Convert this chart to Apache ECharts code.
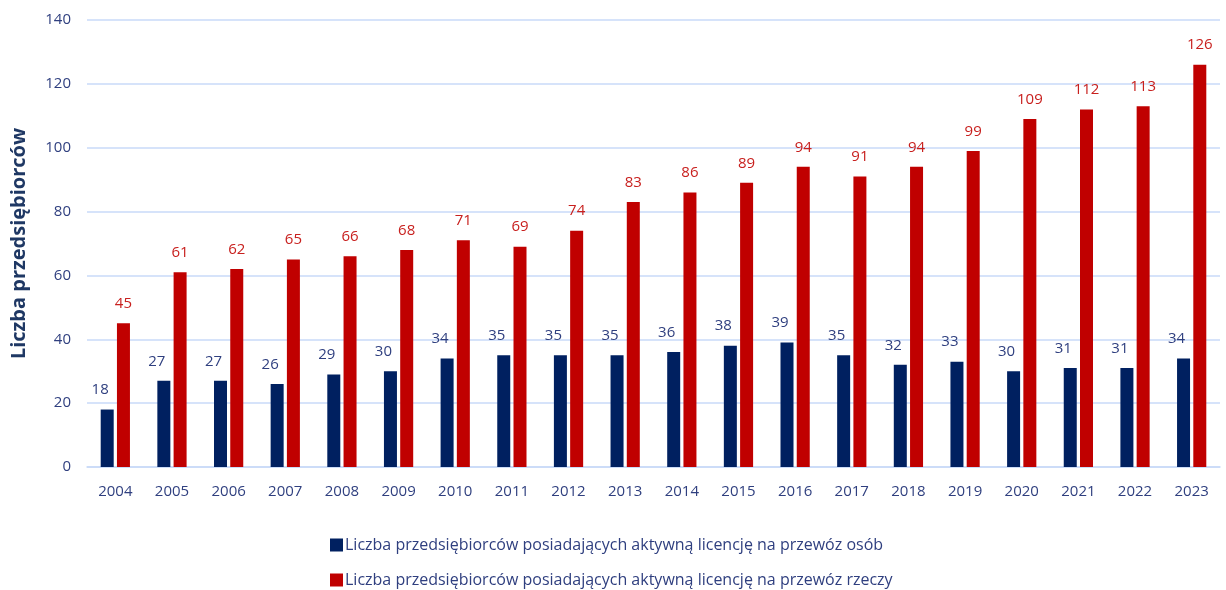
<!DOCTYPE html>
<html>
<head>
<meta charset="utf-8">
<script src="https://cdn.jsdelivr.net/npm/echarts@6/dist/echarts.min.js"></script>
<style>
  html, body { margin: 0; padding: 0; background: #fff; }
  #chart { width: 1226px; height: 590px; }
</style>
</head>
<body>
<div id="chart"></div>
<script>
const years = ['2004', '2005', '2006', '2007', '2008', '2009', '2010', '2011', '2012', '2013',
    '2014', '2015', '2016', '2017', '2018', '2019', '2020', '2021', '2022', '2023'];
const osob = [18, 27, 27, 26, 29, 30, 34, 35, 35, 35, 36, 38, 39, 35, 32, 33, 30, 31, 31, 34];
const rzeczy = [45, 61, 62, 65, 66, 68, 71, 69, 74, 83, 86, 89, 94, 91, 94, 99, 109, 112, 113, 126];
const nameOsob = 'Liczba przedsiębiorców posiadających aktywną licencję na przewóz osób';
const nameRzeczy = 'Liczba przedsiębiorców posiadających aktywną licencję na przewóz rzeczy';

const font = '"Open Sans", "Noto Sans", sans-serif';

// legenda w dwóch wierszach
function legendRow(name, top) {
    return {
        left: 330,
        top: top,
        padding: 0,
        itemWidth: 13,
        itemHeight: 13,
        icon: 'rect',
        textStyle: { color: '#2F3F7F', fontSize: 16, fontFamily: font, padding: [0, 0, 0, -3] },
        data: [name]
    };
}

const chart = echarts.init(document.getElementById('chart'));
chart.setOption({
    animation: false,
    textStyle: { fontFamily: font },
    grid: { left: 87, right: 6, top: 20, bottom: 123 },
    legend: [legendRow(nameOsob, 537), legendRow(nameRzeczy, 572)],
    xAxis: {
        type: 'category',
        data: years,
        axisLine: { lineStyle: { color: '#C9DAF8', width: 1.5 } },
        axisTick: { show: false },
        axisLabel: { color: '#2F3F7F', fontSize: 15, margin: 17 }
    },
    yAxis: {
        type: 'value',
        min: 0,
        max: 140,
        interval: 20,
        name: 'Liczba przedsiębiorców',
        nameLocation: 'middle',
        nameGap: 58,
        nameTextStyle: { color: '#1F3864', fontSize: 20, fontWeight: 'bold', fontFamily: font },
        axisLine: { show: false },
        axisTick: { show: false },
        axisLabel: { color: '#2F3F7F', fontSize: 15, margin: 16 },
        splitLine: { lineStyle: { color: '#C9DAF8', width: 1.5 } }
    },
    series: [
        {
            name: nameOsob,
            type: 'bar',
            data: osob,
            barWidth: 13,
            barGap: '25%',
            itemStyle: { color: '#002060' },
            label: { show: true, position: 'top', distance: 12, color: '#2F3F7F', fontSize: 15, offset: [-7, 0] }
        },
        {
            name: nameRzeczy,
            type: 'bar',
            data: rzeczy,
            barWidth: 13,
            itemStyle: { color: '#C00000' },
            label: { show: true, position: 'top', distance: 12, color: '#C8201E', fontSize: 15 }
        }
    ]
});
</script>
</body>
</html>
